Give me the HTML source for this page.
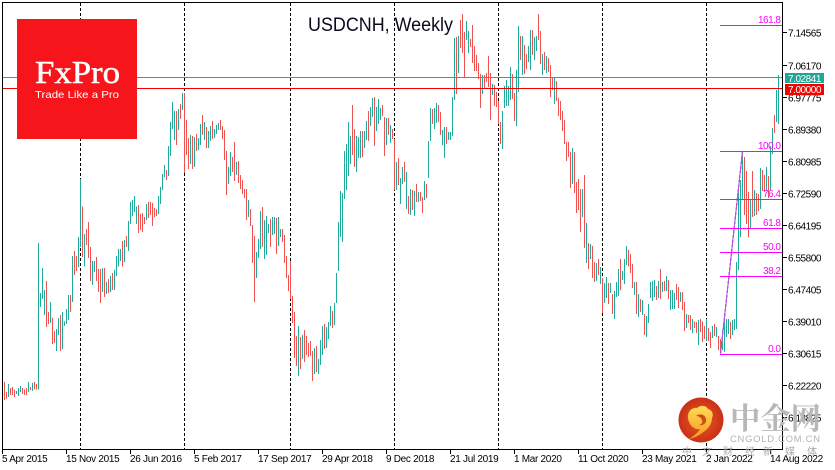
<!DOCTYPE html>
<html lang="en">
<head>
<meta charset="utf-8">
<title>USDCNH, Weekly</title>
<style>
html,body{margin:0;padding:0;background:#fff;width:835px;height:470px;overflow:hidden}
svg{display:block}
text{font-family:"Liberation Sans","Noto Sans CJK SC",sans-serif}
</style>
</head>
<body>
<svg id="chart" xmlns="http://www.w3.org/2000/svg" width="835" height="470" viewBox="0 0 835 470">
<defs>
<radialGradient id="cngoldDisc" cx="50%" cy="50%" r="55%">
<stop offset="0%" stop-color="#ea5a1c"/>
<stop offset="100%" stop-color="#c62c18"/>
</radialGradient>
<linearGradient id="cngoldSwirl" x1="0" y1="0" x2="0" y2="1">
<stop offset="0%" stop-color="#ffdc55"/>
<stop offset="100%" stop-color="#f59a22"/>
</linearGradient>
</defs>
<rect x="0" y="0" width="835" height="470" fill="#ffffff"/>
<g id="grid"></g>
<g id="bars"></g>
<g id="levels"></g>
<g id="fib"></g>
<rect x="2.5" y="2.5" width="780" height="447" fill="none" stroke="#000" stroke-width="1"/>
<g id="yaxis"></g>
<g id="xaxis"></g>
<text x="308" y="31" font-size="19" textLength="145" lengthAdjust="spacingAndGlyphs" fill="#0a0a1e">USDCNH, Weekly</text>
<g>
<rect x="17" y="19" width="120" height="120" fill="#f5151a"/>
<text x="35" y="83" font-size="32" textLength="85" lengthAdjust="spacingAndGlyphs" fill="#fff" stroke="#fff" stroke-width="0.5" style="font-family:'Liberation Serif',serif">FxPro</text>
<text x="35" y="98" font-size="10.5" textLength="84" lengthAdjust="spacingAndGlyphs" fill="#fff">Trade Like a Pro</text>
</g>
<g>
<circle cx="701" cy="420" r="22.5" fill="url(#cngoldDisc)"/>
<path d="M688 418c-1-6 4-11 9-10 3-3 9-3 11 1 4 1 6 5 4 9 0 7-5 12-10 15-4 3-8 5-13 6 4-3 9-6 11-10-6 1-11-4-12-11z" fill="url(#cngoldSwirl)"/>
<path d="M696 416c3-3 9-2 10 3 1 4-3 7-7 6 3-1 4-3 3-5-1-3-4-4-6-4z" fill="#cf4a1a"/>
<text x="730" y="429" font-size="30" font-weight="700" fill="#b8b8b8" textLength="91" lengthAdjust="spacingAndGlyphs" style="font-family:'Noto Serif CJK SC',serif">中金网</text>
<text x="730" y="442" font-size="9.5" fill="#b4b4b4" textLength="90" lengthAdjust="spacing">CNGOLD.COM.CN</text>
<text x="682 702 723 745 763 785 807" y="455" font-size="10" fill="#aaaaaa">中文财经新媒体</text>
</g>
</svg>
<script>
const priceTicks = [7.14565,7.06170,6.97775,6.89380,6.80985,6.72590,6.64195,6.55800,6.47405,6.39010,6.30615,6.22220,6.13825];
const dateLabels = ["5 Apr 2015","15 Nov 2015","26 Jun 2016","5 Feb 2017","17 Sep 2017","29 Apr 2018","9 Dec 2018","21 Jul 2019","1 Mar 2020","11 Oct 2020","23 May 2021","2 Jan 2022","14 Aug 2022"];
const yearLineBars = [38,90,143,195,247,299,351];
const currentPrice = 7.02841;
const roundLevel = 7.00000;
const fibLow = 6.305;
const fibHigh = 6.836;
const fibStartBar = 358;
const fibEndBar = 369;
const fibLevels = [161.8,100.0,76.4,61.8,50.0,38.2,0.0];
const highs = [
6.232,6.206,6.227,6.216,6.219,6.213,6.208,6.216,6.221,6.216,
6.213,6.216,6.232,6.219,6.229,6.232,6.227,6.596,6.465,6.530,
6.473,6.496,6.415,6.442,6.399,6.365,6.371,6.399,6.408,6.415,
6.391,6.423,6.460,6.460,6.562,6.575,6.562,6.612,6.763,6.692,
6.619,6.633,6.651,6.585,6.549,6.549,6.559,6.528,6.528,6.530,
6.530,6.494,6.502,6.509,6.517,6.525,6.562,6.580,6.580,6.601,
6.604,6.614,6.653,6.703,6.708,6.719,6.692,6.695,6.672,6.674,
6.664,6.698,6.703,6.703,6.700,6.687,6.685,6.719,6.743,6.777,
6.800,6.787,6.850,6.913,6.965,6.941,6.941,6.947,6.960,6.988,
6.988,6.918,6.871,6.879,6.876,6.874,6.881,6.871,6.907,6.931,
6.913,6.900,6.889,6.902,6.915,6.894,6.905,6.910,6.918,6.902,
6.892,6.837,6.795,6.834,6.821,6.860,6.808,6.811,6.774,6.761,
6.737,6.737,6.708,6.685,6.643,6.614,6.572,6.606,6.680,6.690,
6.656,6.667,6.646,6.659,6.664,6.664,6.661,6.664,6.633,6.633,
6.617,6.562,6.512,6.549,6.457,6.415,6.352,6.379,6.350,6.355,
6.368,6.352,6.334,6.339,6.313,6.321,6.326,6.292,6.342,6.379,
6.384,6.376,6.389,6.431,6.418,6.439,6.517,6.651,6.732,6.727,
6.837,6.855,6.913,6.876,6.957,6.894,6.876,6.874,6.889,6.889,
6.889,6.915,6.941,6.952,6.975,6.978,6.952,6.973,6.949,6.957,
6.926,6.923,6.923,6.905,6.894,6.868,6.808,6.818,6.766,6.795,
6.808,6.782,6.719,6.737,6.735,6.732,6.750,6.729,6.729,6.716,
6.758,6.750,6.863,6.949,6.947,6.949,6.962,6.957,6.939,6.892,
6.900,6.900,6.887,6.887,6.978,7.132,7.135,7.138,7.180,7.195,
7.148,7.177,7.151,7.130,7.167,7.111,7.088,7.067,7.038,7.036,
7.036,7.041,7.085,7.041,7.012,7.010,6.991,6.967,6.913,6.941,
7.007,7.023,7.007,7.057,7.038,6.988,7.049,7.164,7.138,7.138,
7.114,7.090,7.111,7.153,7.153,7.135,7.138,7.195,7.151,7.090,
7.096,7.085,7.080,7.062,7.028,7.030,7.020,6.975,6.967,6.941,
6.918,6.860,6.860,6.834,6.845,6.834,6.756,6.763,6.737,6.737,
6.774,6.648,6.596,6.593,6.588,6.546,6.544,6.554,6.533,6.504,
6.491,6.507,6.491,6.491,6.463,6.470,6.494,6.528,6.554,6.522,
6.554,6.588,6.578,6.567,6.541,6.494,6.494,6.463,6.449,6.447,
6.410,6.405,6.436,6.494,6.496,6.499,6.483,6.496,6.528,6.494,
6.496,6.509,6.499,6.473,6.473,6.465,6.488,6.481,6.468,6.468,
6.442,6.410,6.408,6.408,6.397,6.391,6.389,6.394,6.397,6.391,
6.379,6.397,6.373,6.363,6.379,6.384,6.376,6.352,6.345,6.368,
6.413,6.397,6.397,6.389,6.394,6.397,6.546,6.732,6.761,6.834,
6.821,6.784,6.729,6.711,6.784,6.735,6.727,6.724,6.792,6.787,
6.774,6.795,6.771,6.850,6.897,6.931,6.996,7.036
];
const lows = [
6.185,6.187,6.193,6.198,6.198,6.193,6.201,6.195,6.206,6.201,
6.198,6.198,6.206,6.211,6.208,6.213,6.213,6.213,6.428,6.449,
6.408,6.376,6.384,6.386,6.332,6.334,6.313,6.355,6.313,6.318,
6.378,6.384,6.394,6.415,6.442,6.512,6.522,6.533,6.585,6.559,
6.535,6.591,6.557,6.496,6.486,6.520,6.496,6.468,6.439,6.468,
6.455,6.463,6.465,6.468,6.473,6.473,6.509,6.535,6.549,6.535,
6.546,6.585,6.575,6.646,6.667,6.677,6.646,6.622,6.630,6.625,
6.646,6.656,6.661,6.669,6.640,6.664,6.667,6.672,6.698,6.735,
6.769,6.761,6.771,6.824,6.894,6.866,6.852,6.892,6.920,6.944,
6.779,6.826,6.790,6.803,6.790,6.795,6.837,6.839,6.852,6.879,
6.866,6.845,6.845,6.863,6.868,6.871,6.881,6.892,6.892,6.868,
6.813,6.722,6.750,6.771,6.782,6.758,6.774,6.753,6.737,6.724,
6.714,6.656,6.664,6.640,6.544,6.442,6.504,6.557,6.580,6.585,
6.554,6.565,6.622,6.585,6.617,6.619,6.567,6.588,6.612,6.599,
6.544,6.504,6.470,6.449,6.386,6.295,6.274,6.248,6.266,6.292,
6.284,6.303,6.297,6.300,6.235,6.253,6.258,6.253,6.276,6.303,
6.318,6.321,6.345,6.379,6.373,6.381,6.439,6.522,6.612,6.599,
6.711,6.735,6.771,6.803,6.826,6.795,6.782,6.818,6.818,6.821,
6.845,6.866,6.863,6.902,6.926,6.850,6.889,6.907,6.918,6.928,
6.824,6.852,6.879,6.858,6.868,6.735,6.735,6.748,6.698,6.750,
6.756,6.685,6.672,6.669,6.682,6.667,6.703,6.703,6.706,6.674,
6.708,6.714,6.766,6.863,6.907,6.894,6.910,6.913,6.879,6.852,
6.818,6.855,6.866,6.866,6.876,6.970,6.986,7.041,7.106,7.093,
7.028,7.127,7.093,7.109,7.067,7.046,7.046,7.025,6.949,6.986,
6.999,7.017,7.004,6.918,6.983,6.955,6.952,6.907,6.855,6.842,
6.949,6.955,6.955,6.970,6.973,6.915,6.902,6.991,7.075,7.036,
7.038,7.051,7.070,7.049,7.088,7.075,7.098,7.127,7.064,7.036,
7.049,7.041,7.044,6.978,6.996,6.960,6.967,6.928,6.918,6.889,
6.855,6.811,6.821,6.740,6.750,6.727,6.674,6.682,6.625,6.664,
6.583,6.544,6.528,6.554,6.504,6.494,6.496,6.512,6.488,6.413,
6.439,6.452,6.436,6.465,6.410,6.397,6.455,6.457,6.473,6.499,
6.488,6.538,6.535,6.517,6.478,6.460,6.410,6.402,6.415,6.408,
6.355,6.350,6.386,6.452,6.444,6.455,6.447,6.452,6.449,6.468,
6.470,6.470,6.449,6.421,6.423,6.423,6.447,6.426,6.442,6.421,
6.365,6.373,6.386,6.368,6.360,6.373,6.360,6.329,6.363,6.337,
6.345,6.339,6.339,6.321,6.347,6.352,6.350,6.316,6.305,6.316,
6.311,6.350,6.358,6.345,6.355,6.368,6.371,6.525,6.612,6.708,
6.669,6.646,6.612,6.632,6.664,6.667,6.669,6.680,6.685,6.732,
6.729,6.735,6.714,6.735,6.829,6.884,6.913,6.907
];
const rising = [
0,0,1,0,0,0,1,1,1,0, 0,0,1,0,1,0,0,1,1,1,
1,0,0,1,0,0,1,1,0,1, 1,1,1,0,1,0,0,1,1,0,
1,0,0,0,1,1,0,0,0,1, 0,1,0,1,0,1,1,1,1,0,
1,0,1,1,1,1,1,0,0,0, 0,1,0,0,0,0,0,1,1,1,
1,0,1,1,1,1,0,1,0,1, 0,0,0,1,0,1,0,1,1,0,
1,0,1,1,0,1,1,1,0,0, 0,0,1,1,0,0,1,0,0,0,
0,0,1,0,0,0,1,1,1,0, 1,1,1,0,1,1,0,1,1,0,
0,0,0,0,0,0,0,1,0,1, 0,0,0,0,0,1,0,1,1,1,
0,1,1,1,0,1,1,1,1,1, 1,1,1,1,0,0,1,1,1,0,
1,1,0,1,1,0,1,1,1,0, 0,1,0,1,0,0,1,0,1,1,
0,1,0,1,0,1,0,1,0,0, 1,0,1,1,0,1,1,0,0,1,
1,0,1,1,1,1,0,1,0,0, 0,1,1,0,0,0,0,0,0,1,
0,0,0,0,1,0,0,0,0,1, 1,1,1,1,0,0,1,1,0,1,
0,0,1,1,0,1,1,0,0,1, 0,1,0,0,0,1,0,0,0,0,
0,0,0,0,1,0,0,0,0,1, 0,1,0,1,0,0,1,0,1,0,
1,1,0,1,0,1,1,1,0,1, 1,1,0,0,0,1,0,1,0,1,
0,1,1,1,1,1,0,1,0,1, 0,1,0,1,1,1,0,0,1,0,
0,1,0,0,1,0,0,1,0,0, 0,1,0,0,1,0,1,0,0,1,
1,1,1,0,1,1,1,1,1,1, 0,0,0,1,0,1,0,0,1,0,
0,1,0,1,1,0,1,1
];

const NS = 'http://www.w3.org/2000/svg';
const TEAL = '#1fab9b';
const RED = '#f0524f';
const MAGENTA = '#ff00ff';

function xOf(barIndex) { return 4 + 2 * barIndex; }
function yOf(price) { return (7.232 - price) / 0.0026177; }
function crisp(v) { return Math.floor(v) + 0.5; }
function make(tag, attrs, parent, text) {
  const el = document.createElementNS(NS, tag);
  for (const k in attrs) el.setAttribute(k, attrs[k]);
  if (text !== undefined) el.textContent = text;
  parent.appendChild(el);
  return el;
}

const gridG = document.getElementById('grid');
yearLineBars.forEach(function (b) {
  const x = xOf(b) + 0.5;
  const el = make('line', {x1: x, x2: x, y1: 3, y2: 449, stroke: '#000', 'stroke-width': 1, 'stroke-dasharray': '3,2'}, gridG);
  
  
});

const barsG = document.getElementById('bars');
highs.forEach(function (h, i) {
  const top = yOf(h);
  const bottom = yOf(lows[i]);
  const el = make('rect', {x: xOf(i), y: top, width: 1, height: Math.max(1, bottom - top), fill: rising[i] ? TEAL : RED, 'shape-rendering': 'crispEdges'}, barsG);
  
  
});

const levelsG = document.getElementById('levels');
const currentLine = make('line', {x1: 3, x2: 782, y1: crisp(yOf(currentPrice)), y2: crisp(yOf(currentPrice)), stroke: TEAL, 'stroke-width': 1}, levelsG);


const roundLine = make('line', {x1: 3, x2: 782, y1: crisp(yOf(roundLevel)), y2: crisp(yOf(roundLevel)), stroke: '#f00000', 'stroke-width': 1}, levelsG);



const fibG = document.getElementById('fib');
const fibTrend = make('line', {x1: xOf(fibStartBar) + 0.5, y1: yOf(fibLow), x2: xOf(fibEndBar) + 0.5, y2: yOf(fibHigh), stroke: '#bb55dd', 'stroke-width': 1.3, 'shape-rendering': 'crispEdges'}, fibG);


fibLevels.forEach(function (lvl) {
  const y = crisp(yOf(fibLow + (fibHigh - fibLow) * lvl / 100));
  const line = make('line', {x1: xOf(fibStartBar), x2: 782, y1: y, y2: y, stroke: MAGENTA, 'stroke-width': 1}, fibG);
  
  
  const label = make('text', {x: 780.5, y: y - 2.5, 'text-anchor': 'end', 'font-size': 10, 'letter-spacing': -0.5, fill: MAGENTA}, fibG, lvl.toFixed(1));
  
  
});

const yG = document.getElementById('yaxis');
priceTicks.forEach(function (p) {
  const y = crisp(yOf(p));
  const tick = make('line', {x1: 783, x2: 787, y1: y, y2: y, stroke: '#000', 'stroke-width': 1}, yG);
  
  
  const label = make('text', {x: 788, y: y + 4, 'font-size': 10, 'letter-spacing': -0.45, fill: '#000'}, yG, p.toFixed(5));
  
  
});
function priceTag(price, fill, h) {
  const y = yOf(price);
  const box = make('rect', {x: 785, y: Math.round(y) - 5, width: 39, height: h, fill: fill}, yG);
  
  
  const label = make('text', {x: 788, y: Math.round(y) + 4, 'font-size': 10, 'letter-spacing': -0.45, fill: '#fff'}, yG, price.toFixed(5));
  
  
}
priceTag(currentPrice, '#22a596', 10);
priceTag(roundLevel, '#f60000', 11);

const xG = document.getElementById('xaxis');
dateLabels.forEach(function (d, k) {
  const x = xOf(-1 + 32 * k);
  const tick = make('line', {x1: x + 0.5, x2: x + 0.5, y1: 450, y2: 454, stroke: '#000', 'stroke-width': 1}, xG);
  
  
  const label = make('text', {x: x, y: 462, 'font-size': 10, 'letter-spacing': -0.3, fill: '#000'}, xG, d);
  
  
});
</script>
</body>
</html>
